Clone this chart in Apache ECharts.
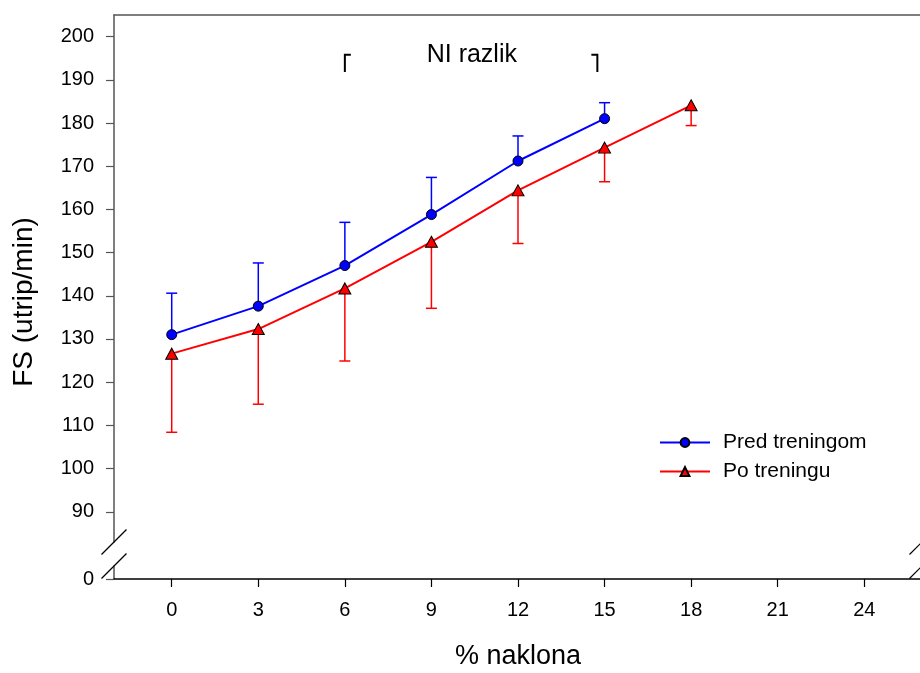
<!DOCTYPE html>
<html><head><meta charset="utf-8">
<script src="https://cdn.jsdelivr.net/npm/echarts@6/dist/echarts.min.js"></script>
<style>html,body{margin:0;padding:0;background:#fff}#c{width:920px;height:673px}</style>
</head><body><div id="c"></div>
<script>
// ---- data ----
const predX = [0, 3, 6, 9, 12, 15];
const predMean = [131.0, 137.6, 147.0, 158.8, 171.2, 181.0];
const predSD = [9.6, 10.0, 10.0, 8.6, 5.8, 3.7];
const poX = [0, 3, 6, 9, 12, 15, 18];
const poMean = [126.6, 132.3, 141.7, 152.5, 164.4, 174.3, 184.1];
const poSD = [18.2, 17.4, 16.8, 15.4, 12.3, 7.9, 4.7];
const xTicks = [0, 3, 6, 9, 12, 15, 18, 21, 24];
const yTicks = [90, 100, 110, 120, 130, 140, 150, 160, 170, 180, 190, 200];
const yBreakTicks = [0];
const seriesNames = ['Pred treningom', 'Po treningu'];
const xName = '% naklona';
const yName = 'FS (utrip/min)';
const noteText = 'NI razlik';
const noteTextPos = [10.4, 195.6];
const noteBrackets = [[6, 195.8, 191.8, 1], [14.75, 195.8, 191.8, -1]];

const FONT = 'Liberation Sans, Arial, sans-serif';
const BLUE = '#0000ff', RED = '#ff0000';
const AX_GRAY = '#555555';

const chart = echarts.init(document.getElementById('c'), null, {renderer: 'canvas'});

function errRenderer(dir, color) {
  return function (params, api) {
    const x = api.value(0), y = api.value(1), e = api.value(2);
    const p0 = api.coord([x, y]);
    const p1 = api.coord([x, y + dir * e]);
    const hw = 5.5;
    return {type: 'group', children: [
      {type: 'line', shape: {x1: p0[0], y1: p0[1], x2: p1[0], y2: p1[1]}, style: {stroke: color, lineWidth: 1.5}},
      {type: 'line', shape: {x1: p1[0] - hw, y1: p1[1], x2: p1[0] + hw, y2: p1[1]}, style: {stroke: color, lineWidth: 1.5}}
    ]};
  };
}

const predErr = predX.map((x, i) => [x, predMean[i], predSD[i]]);
const poErr = poX.map((x, i) => [x, poMean[i], poSD[i]]);

const option = {
  animation: false,
  backgroundColor: '#ffffff',
  textStyle: {fontFamily: FONT, color: '#000'},
  grid: [
    {left: 114, right: -2, top: 15, bottom: 131, containLabel: false, outerBoundsMode: 'none'},
    {left: 114, right: -2, top: 566, bottom: 94, containLabel: false, outerBoundsMode: 'none'}
  ],
  xAxis: [
    {type: 'value', gridIndex: 0, min: -2, max: 26, position: 'top',
      axisLine: {show: true, onZero: false, lineStyle: {color: AX_GRAY, width: 1.5}},
      axisTick: {show: false}, axisLabel: {show: false}, splitLine: {show: false}},
    {type: 'value', gridIndex: 1, min: -2, max: 26, position: 'bottom',
      name: xName, nameLocation: 'middle', nameGap: 64,
      nameTextStyle: {fontFamily: FONT, fontSize: 27, color: '#000'},
      axisLine: {show: true, onZero: false, lineStyle: {color: '#000', width: 1.5}},
      axisTick: {show: true, inside: false, length: 8, customValues: xTicks, lineStyle: {color: '#000', width: 1.2}},
      axisLabel: {show: true, margin: 21, customValues: xTicks, fontFamily: FONT, fontSize: 20, color: '#000'},
      splitLine: {show: false}}
  ],
  yAxis: [
    {type: 'value', gridIndex: 0, min: 83, max: 205,
      axisLine: {show: true, onZero: false, lineStyle: {color: AX_GRAY, width: 1.5}},
      axisTick: {show: true, inside: false, length: 8, customValues: yTicks, lineStyle: {color: AX_GRAY, width: 1.2}},
      axisLabel: {show: true, margin: 20, customValues: yTicks, fontFamily: FONT, fontSize: 20, color: '#000'},
      splitLine: {show: false}},
    {type: 'value', gridIndex: 1, min: 0, max: 3,
      axisLine: {show: true, onZero: false, lineStyle: {color: AX_GRAY, width: 1.5}},
      axisTick: {show: true, inside: false, length: 8, customValues: yBreakTicks, lineStyle: {color: AX_GRAY, width: 1.2}},
      axisLabel: {show: true, margin: 20, customValues: yBreakTicks, fontFamily: FONT, fontSize: 20, color: '#000'},
      splitLine: {show: false}}
  ],
  legend: {
    orient: 'vertical', left: 654, top: 427, itemWidth: 50, itemHeight: 11, itemGap: 8,
    data: seriesNames,
    textStyle: {fontFamily: FONT, fontSize: 21, color: '#000', padding: [0, 0, 0, 8]}
  },
  series: [
    {type: 'custom', name: 'predErr', xAxisIndex: 0, yAxisIndex: 0, z: 1,
      renderItem: errRenderer(1, BLUE), data: predErr, encode: {x: 0, y: 1}, silent: true},
    {type: 'custom', name: 'poErr', xAxisIndex: 0, yAxisIndex: 0, z: 1,
      renderItem: errRenderer(-1, RED), data: poErr, encode: {x: 0, y: 1}, silent: true},
    {type: 'line', name: seriesNames[0], xAxisIndex: 0, yAxisIndex: 0, z: 3,
      data: predX.map((x, i) => [x, predMean[i]]),
      symbol: 'circle', symbolSize: 10, showAllSymbol: true,
      lineStyle: {color: BLUE, width: 2},
      itemStyle: {color: BLUE, borderColor: '#000', borderWidth: 1}},
    {type: 'line', name: seriesNames[1], xAxisIndex: 0, yAxisIndex: 0, z: 2,
      data: poX.map((x, i) => [x, poMean[i]]),
      symbol: 'triangle', symbolSize: [12, 11], showAllSymbol: true,
      lineStyle: {color: RED, width: 2},
      itemStyle: {color: RED, borderColor: '#000', borderWidth: 1}},
    {type: 'custom', name: 'noteBrackets', xAxisIndex: 0, yAxisIndex: 0, z: 4, silent: true,
      data: noteBrackets, encode: {x: 0, y: 1},
      renderItem: function (params, api) {
        const x = api.value(0), yt = api.value(1), yb = api.value(2), d = api.value(3);
        const pt = api.coord([x, yt]), pb = api.coord([x, yb]);
        return {type: 'polyline', shape: {points: [[pt[0] + d * 6, pt[1]], [pt[0], pt[1]], [pb[0], pb[1]]]},
          style: {stroke: '#000', lineWidth: 2, fill: null}};
      }},
    {type: 'custom', name: 'noteText', xAxisIndex: 0, yAxisIndex: 0, z: 4, silent: true,
      data: [noteTextPos], encode: {x: 0, y: 1},
      renderItem: function (params, api) {
        const p = api.coord([api.value(0), api.value(1)]);
        return {type: 'text', x: p[0], y: p[1],
          style: {text: noteText, font: '25px ' + FONT, fill: '#000', align: 'center', verticalAlign: 'middle'}};
      }}
  ]
};
chart.setOption(option);

// axis-break slashes and y-axis title
const a0 = chart.convertToPixel({xAxisIndex: 0, yAxisIndex: 0}, [-2, 83]);
const a1 = chart.convertToPixel({xAxisIndex: 0, yAxisIndex: 0}, [26, 83]);
const b0 = chart.convertToPixel({xAxisIndex: 1, yAxisIndex: 1}, [-2, 3]);
const b1 = chart.convertToPixel({xAxisIndex: 1, yAxisIndex: 1}, [26, 3]);
const topPx = chart.convertToPixel({xAxisIndex: 0, yAxisIndex: 0}, [-2, 205]);
const botPx = chart.convertToPixel({xAxisIndex: 1, yAxisIndex: 1}, [-2, 0]);
function slash(c) {
  return {type: 'line', shape: {x1: c[0] - 12.5, y1: c[1] + 12.5, x2: c[0] + 12.5, y2: c[1] - 12.5},
    style: {stroke: '#000', lineWidth: 1.2}, z: 10};
}
chart.setOption({
  graphic: [
    slash(a0), slash(a1), slash(b0), slash(b1),
    {type: 'text', x: 24, y: (topPx[1] + botPx[1]) / 2 + 5, rotation: Math.PI / 2, z: 10,
      style: {text: yName, font: '28px ' + FONT, fill: '#000', align: 'center', verticalAlign: 'middle',
        textAlign: 'center', textVerticalAlign: 'middle'}}
  ]
});
</script>
</body></html>
